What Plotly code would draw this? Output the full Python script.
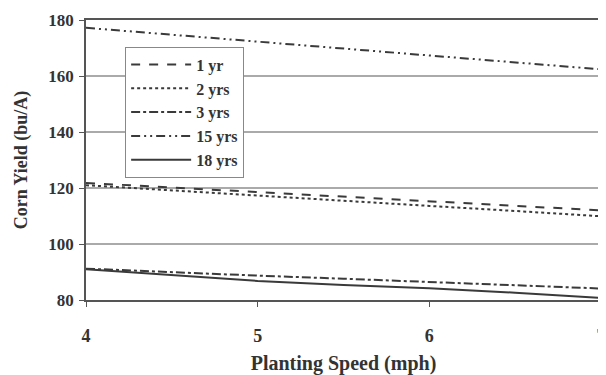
import plotly.graph_objects as go

speed = [4, 4.5, 5, 5.5, 6, 6.5, 7]
yr1 = [121.8, 120.2, 118.6, 117.0, 115.3, 113.7, 112.0]
yr2 = [121.0, 119.1, 117.3, 115.5, 113.6, 111.8, 109.9]
yr3 = [91.2, 89.9, 88.7, 87.6, 86.5, 85.3, 84.1]
yr15 = [177.2, 174.7, 172.2, 169.8, 167.4, 164.9, 162.4]
yr18 = [91.0, 88.8, 86.8, 85.4, 84.2, 82.6, 80.7]
x_ticks = [4, 5, 6, 7]
y_ticks = [80, 100, 120, 140, 160, 180]

series = [
    ("1 yr", yr1, "dash"),
    ("2 yrs", yr2, "dot"),
    ("3 yrs", yr3, "dashdot"),
    ("15 yrs", yr15, "9px,4px,2px,4px,2px,4px"),
    ("18 yrs", yr18, "solid"),
]

fig = go.Figure()
for i, (name, vals, dash) in enumerate(series):
    fig.add_trace(go.Scatter(
        x=speed, y=vals, mode="lines", name=name, legendgroup=f"g{i}",
        line=dict(color="#3a3a3a", width=2, dash=dash),
    ))

font_fam = "Liberation Serif, Times New Roman, serif"
# the page body adds an 8px margin, so the figure is sized to fit the window
fig.update_layout(
    width=598, height=367,
    margin=dict(l=78, r=5, t=12, b=75),
    paper_bgcolor="white", plot_bgcolor="white",
    font=dict(family=font_fam, color="#333333", size=16),
    showlegend=True,
    legend=dict(
        x=0.076, y=0.905, xanchor="left", yanchor="top",
        bgcolor="white", bordercolor="#888888", borderwidth=1,
        font=dict(family=font_fam, size=16, color="#333333", weight="bold"),
        traceorder="grouped", tracegroupgap=0,
        itemwidth=60,
    ),
    xaxis=dict(
        range=[4, 7], tickvals=x_ticks, ticks="outside", ticklen=5,
        tickcolor="#555555", showline=True, linecolor="#555555", linewidth=1.5,
        mirror=True, showgrid=False, zeroline=False, automargin=False,
        ticklabelstandoff=14, ticklabeloverflow="allow",
        tickfont=dict(family=font_fam, size=18, weight="bold"),
        title=dict(text="Planting Speed (mph)", standoff=17,
                   font=dict(family=font_fam, size=20, weight="bold")),
    ),
    yaxis=dict(
        range=[80, 180], tickvals=y_ticks, ticks="outside",
        ticklen=5, tickcolor="#555555", showline=True, linecolor="#555555",
        linewidth=1.5, mirror=True, showgrid=True, gridcolor="#aaaaaa",
        gridwidth=1.5, zeroline=False, automargin=False,
        ticklabelstandoff=2,
        tickfont=dict(family=font_fam, size=17, weight="bold"),
        title=dict(text="Corn Yield (bu/A)", standoff=16,
                   font=dict(family=font_fam, size=18, weight="bold")),
    ),
)

fig.write_html("out.html")
